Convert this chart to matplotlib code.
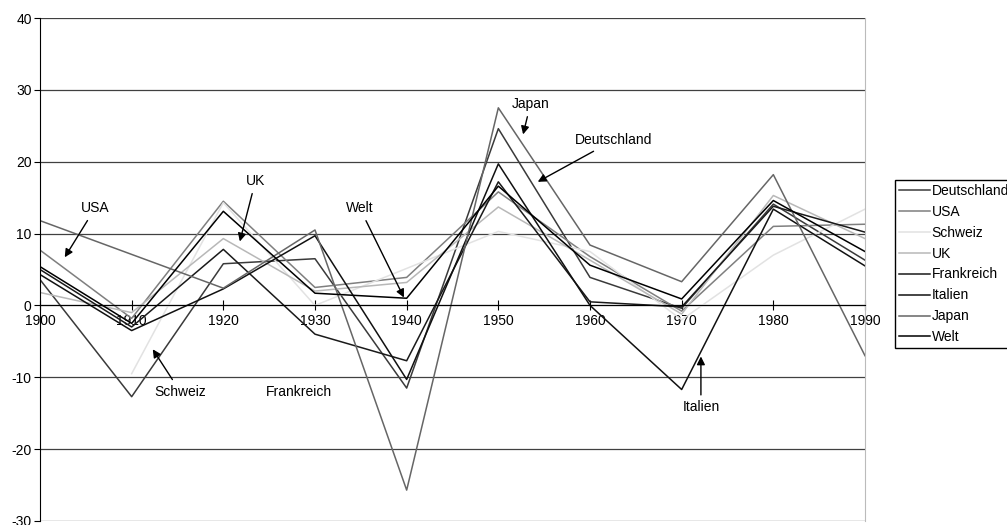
import matplotlib
matplotlib.use('Agg')

import numpy as np
import matplotlib.pyplot as plt

plt.rcParams['font.family'] = ['Liberation Sans', 'DejaVu Sans']
plt.rcParams['axes.unicode_minus'] = False

years = [1900, 1910, 1920, 1930, 1940, 1950, 1960, 1970, 1980, 1990]

# values, None = no point
deutschland = [3.6, -12.7, 5.8, 6.5, -11.5, 24.6, 3.9, -0.4, 14.1, 6.3]
usa = [7.7, -1.8, 14.5, 2.5, 3.9, 15.8, 6.8, -0.8, 11.0, 11.3]
schweiz = [None, -9.5, 14.3, 0.0, None, 10.3, 7.5, -2.0, 7.0, 13.4]
uk = [1.8, -1.0, 9.3, 2.0, 3.2, 13.7, 6.3, -1.2, 15.3, 9.3]
frankreich = [5.0, -3.0, 7.8, -4.0, -7.7, 17.2, 0.5, -0.2, 13.8, 10.2]
italien = [4.3, -3.5, 2.3, 9.7, -10.3, 19.7, 0.0, -11.7, 13.4, 5.5]
japan = [11.8, None, 2.4, 10.5, -25.7, 27.5, 8.4, 3.3, 18.2, -7.0]
welt = [5.4, -2.5, 13.1, 1.7, 1.0, 16.6, 5.6, 0.9, 14.6, 7.5]

series = [
    ("Deutschland", deutschland, "#3a3a3a"),
    ("USA", usa, "#7f7f7f"),
    ("Schweiz", schweiz, "#e2e2e2"),
    ("UK", uk, "#b8b8b8"),
    ("Frankreich", frankreich, "#1a1a1a"),
    ("Italien", italien, "#111111"),
    ("Japan", japan, "#666666"),
    ("Welt", welt, "#000000"),
]

fig = plt.figure(figsize=(10.07, 5.25), dpi=100)
ax = fig.add_axes([40 / 1007, 4 / 525, 825 / 1007, 503 / 525])

for name, vals, col in series:
    # skip missing points so the line joins its neighbours
    xs = [x for x, v in zip(years, vals) if v is not None]
    ys = [v for v in vals if v is not None]
    ax.plot(xs, ys, color=col, lw=1.1, label=name)

ax.set_xlim(1900, 1990)
ax.set_ylim(-30, 40)
ax.set_yticks(np.arange(-30, 41, 10))
ax.set_xticks(years)
ax.tick_params(axis='y', direction='out', length=4, labelsize=10, pad=2)
ax.tick_params(axis='x', direction='inout', length=7, labelsize=10, pad=3)
ax.grid(axis='y', color='#404040', lw=0.9)
ax.set_axisbelow(True)

ax.spines['top'].set_visible(False)
ax.spines['right'].set_color('#bbbbbb')
ax.spines['left'].set_color('black')
ax.spines['bottom'].set_position(('data', 0))
ax.spines['bottom'].set_color('black')

arrow = dict(arrowstyle='-|>', color='black', lw=1, mutation_scale=12, shrinkA=2, shrinkB=0)
notes = [
    ("USA", (1902.7, 6.7), (1906.0, 13.5)),
    ("UK", (1921.8, 8.9), (1923.5, 17.3)),
    ("Welt", (1939.7, 1.1), (1934.9, 13.5)),
    ("Japan", (1952.7, 23.8), (1953.5, 28.0)),
    ("Deutschland", (1954.3, 17.2), (1962.6, 23.0)),
    ("Schweiz", (1912.3, -6.1), (1915.3, -12.0)),
    ("Italien", (1972.1, -7.1), (1972.1, -14.2)),
]
for txt, tip, pos in notes:
    ax.annotate(txt, xy=tip, xytext=pos, ha='center', va='center', fontsize=10,
                arrowprops=arrow)
ax.text(1928.2, -12.0, "Frankreich", ha='center', va='center', fontsize=10)

leg = fig.legend(loc='center left', bbox_to_anchor=(895 / 1007, (525 - 264) / 525),
                 fontsize=10, frameon=True, fancybox=False, framealpha=1,
                 edgecolor='black', handlelength=2.2, handletextpad=0.15,
                 labelspacing=0.5, borderpad=0.3, borderaxespad=0)
leg.get_frame().set_linewidth(1)

fig.savefig("out.png", dpi=100)
